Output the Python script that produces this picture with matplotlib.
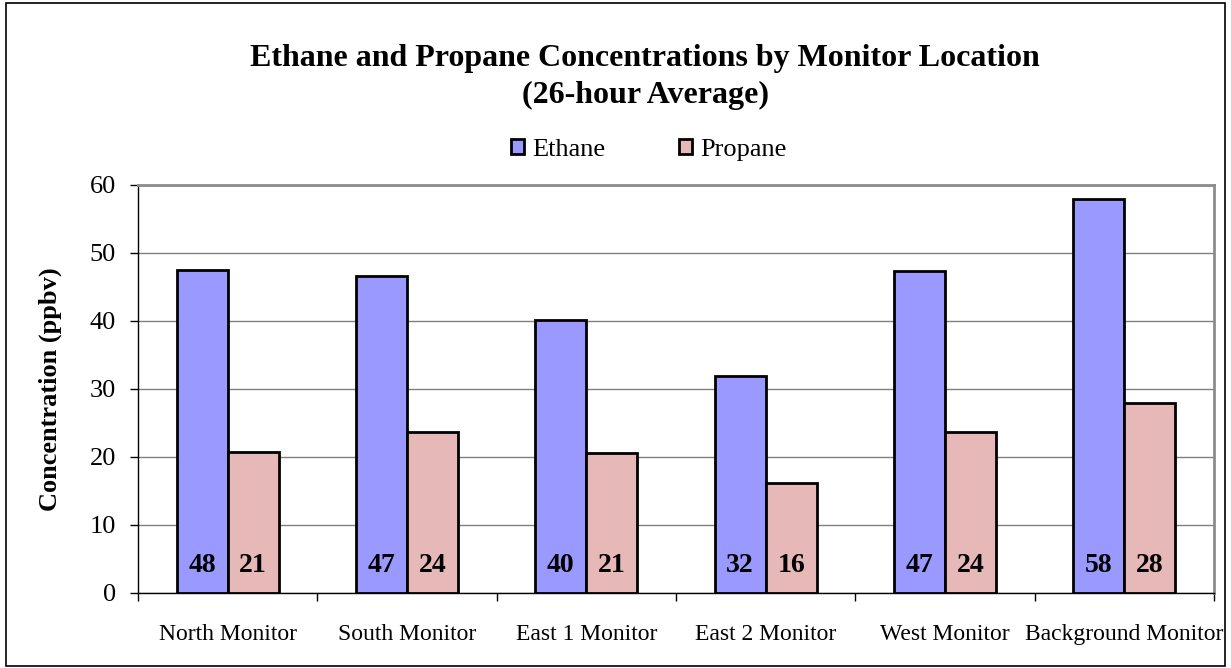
import numpy as np
import matplotlib
matplotlib.use("Agg")
import matplotlib.pyplot as plt
from matplotlib.patches import Rectangle

monitors = ["North Monitor", "South Monitor", "East 1 Monitor",
            "East 2 Monitor", "West Monitor", "Background Monitor"]
ethane = [47.5, 46.6, 40.1, 31.9, 47.3, 58.0]
propane = [20.8, 23.6, 20.6, 16.1, 23.7, 27.9]

plt.rcParams['font.family'] = ['Liberation Serif', 'DejaVu Serif']

fig = plt.figure(figsize=(12.31, 6.68), dpi=100)
ax = fig.add_axes([0.1121, 0.1123, 0.8741, 0.6108])

x = np.arange(len(monitors))
w = 0.285
b1 = ax.bar(x - w / 2, ethane, w, color='#9999ff', edgecolor='black',
            linewidth=2, label='Ethane', zorder=3)
b2 = ax.bar(x + w / 2, propane, w, color='#e6b8b7', edgecolor='black',
            linewidth=2, label='Propane', zorder=3)

# value labels at the bottom of each bar
for bars, vals in ((b1, ethane), (b2, propane)):
    for r, v in zip(bars, vals):
        ax.text(r.get_x() + r.get_width() / 2, 2.2, "%d" % round(v),
                ha='center', va='bottom', fontsize=20, fontweight='bold',
                zorder=4)

ax.set_xlim(-0.5, len(monitors) - 0.5)
ax.set_ylim(0, 60)
ax.set_yticks(range(0, 61, 10))
ax.tick_params(axis='y', labelsize=19, direction='out', length=6, width=1,
               pad=10)
ax.yaxis.grid(True, color='#808080', linewidth=1, zorder=0)
ax.set_axisbelow(True)

ax.set_xticks(np.arange(-0.5, len(monitors), 1.0))
ax.set_xticklabels([])
ax.set_xticks(x, minor=True)
ax.set_xticklabels(monitors, minor=True, fontsize=17)
ax.tick_params(axis='x', which='major', direction='out', length=6, width=1)
ax.tick_params(axis='x', which='minor', length=0, pad=22)

for s in ('left', 'bottom'):
    ax.spines[s].set_color('black')
    ax.spines[s].set_linewidth(1)
for s in ('top', 'right'):
    ax.spines[s].set_color('#8c8c8c')
    ax.spines[s].set_linewidth(2)

ax.set_ylabel('Concentration (ppbv)', fontsize=19, fontweight='bold',
              labelpad=20)

fig.text(0.524, 0.912, 'Ethane and Propane Concentrations by Monitor Location',
         ha='center', va='center', fontsize=23, fontweight='bold')
fig.text(0.524, 0.857, '(26-hour Average)', ha='center', va='center',
         fontsize=23, fontweight='bold')

fig.legend(handles=[b1, b2], labels=['Ethane', 'Propane'],
           loc='center', bbox_to_anchor=(0.527, 0.776), ncol=2,
           frameon=False, fontsize=19, handlelength=0.5, handleheight=0.5,
           handletextpad=0.3, columnspacing=2.8)

fig.patches.append(Rectangle((0.005, 0.003), 0.99, 0.993,
                             transform=fig.transFigure, fill=False,
                             edgecolor='black', linewidth=1.2))

fig.savefig('out.png', dpi=100)
